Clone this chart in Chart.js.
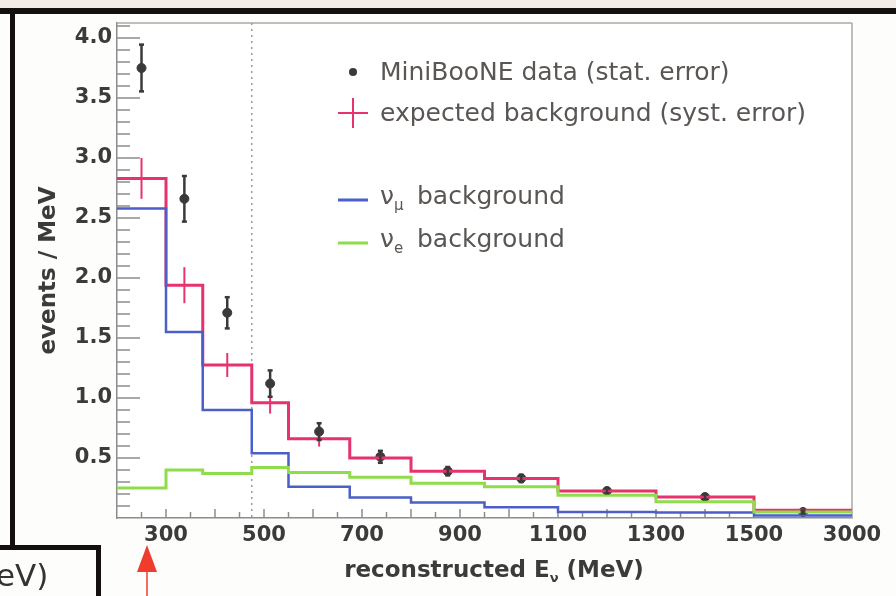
<!DOCTYPE html>
<html>
<head>
<meta charset="utf-8">
<script src="https://cdn.jsdelivr.net/npm/chart.js@4.4.0/dist/chart.umd.min.js"></script>
<style>
  html, body { margin: 0; padding: 0; background: #fdfdfc; }
  #wrap { width: 896px; height: 596px; position: relative; }
</style>
</head>
<body>
<div id="wrap"><canvas id="chart" width="896" height="596"></canvas></div>
<script>
// ---- data ----
// bin edges in MeV; the last bin (1500-3000) is drawn squeezed like the original plot
const binEdges = [200, 300, 375, 475, 550, 675, 800, 950, 1100, 1300, 1500, 3000];
const dataValues = [3.75, 2.66, 1.71, 1.12, 0.72, 0.51, 0.39, 0.33, 0.225, 0.175, 0.05];
const dataErrors = [0.195, 0.19, 0.13, 0.11, 0.07, 0.05, 0.035, 0.03, 0.02, 0.02, 0.012];
const expectedBkg = [2.83, 1.94, 1.275, 0.96, 0.66, 0.50, 0.39, 0.33, 0.225, 0.175, 0.065];
const expectedErr = [0.17, 0.15, 0.10, 0.09, 0.065, 0.045, 0.03, 0.025, 0.02, 0.015, 0.01];
const numuBkg = [2.58, 1.55, 0.90, 0.54, 0.26, 0.17, 0.13, 0.09, 0.05, 0.045, 0.02];
const nueBkg = [0.25, 0.40, 0.37, 0.42, 0.38, 0.34, 0.29, 0.26, 0.19, 0.135, 0.05];
const xTickValues = [300, 500, 700, 900, 1100, 1300, 1500, 3000];
const yTickValues = [0.5, 1.0, 1.5, 2.0, 2.5, 3.0, 3.5, 4.0];
const cutEnergy = 475; // dotted line

const COL_DATA = '#3a3a3a';
const COL_EXP = '#e6336e';
const COL_NUMU = '#4a5fc8';
const COL_NUE = '#8fdc4c';
const COL_TEXT = '#3b3b3b';
const COL_LEG = '#5a5654';
const FONT = '"DejaVu Sans", sans-serif';

// broken axis: everything above 1500 MeV is squeezed into 200 MeV of axis
const BREAK = 1500, TAIL = 200;
function axisX(e) { return e <= BREAK ? e : BREAK + (e - BREAK) * TAIL / (binEdges[binEdges.length - 1] - BREAK); }
function binCenter(i) { return axisX((binEdges[i] + binEdges[i + 1]) / 2); }

function histPoints(vals) {
  const pts = vals.map((v, i) => ({ x: axisX(binEdges[i]), y: v }));
  pts.push({ x: axisX(binEdges[binEdges.length - 1]), y: vals[vals.length - 1] });
  return pts;
}

function line(ctx, x1, y1, x2, y2) {
  ctx.beginPath(); ctx.moveTo(x1, y1); ctx.lineTo(x2, y2); ctx.stroke();
}

// ---- slide frame, ticks, error bars, legend ----
const decor = {
  id: 'decor',
  beforeDraw(chart) {
    const ctx = chart.ctx;
    ctx.save();
    ctx.fillStyle = '#fdfdfc';
    ctx.fillRect(0, 0, 896, 596);
    ctx.fillStyle = '#f1ede6';
    ctx.fillRect(0, 0, 896, 8);
    ctx.fillStyle = '#141010';
    ctx.fillRect(0, 8, 896, 6);     // top black band
    ctx.fillRect(10, 8, 5, 542);    // left black band
    ctx.fillRect(0, 545, 101, 5);   // lower box
    ctx.fillRect(96, 545, 5, 51);
    ctx.fillStyle = '#ffffff';
    const a = chart.chartArea;
    ctx.fillRect(a.left, a.top, a.right - a.left, a.bottom - a.top);
    ctx.restore();
  },
  beforeDatasetsDraw(chart) {
    const ctx = chart.ctx, a = chart.chartArea;
    const xs = chart.scales.x, ys = chart.scales.y;
    ctx.save();
    // plot box top/right
    ctx.strokeStyle = '#a8a8a8'; ctx.lineWidth = 1.5;
    line(ctx, a.left, a.top, a.right, a.top);
    line(ctx, a.right, a.top, a.right, a.bottom);
    // inward y ticks every 0.1
    ctx.strokeStyle = '#8c8c8c'; ctx.lineWidth = 1.5;
    for (let k = 1; k / 10 <= ys.max; k++) {
      const y = ys.getPixelForValue(k / 10);
      line(ctx, a.left, y, a.left + (k % 5 === 0 ? 23 : 13), y);
    }
    // inward x ticks every 50 MeV
    for (let e = 250; e <= BREAK; e += 50) {
      const x = xs.getPixelForValue(axisX(e));
      line(ctx, x, a.bottom, x, a.bottom - (e % 100 === 0 ? 9 : 6));
    }
    // dotted cut line
    ctx.strokeStyle = '#9a9a9a'; ctx.lineWidth = 1.5; ctx.setLineDash([2, 4]);
    const xc = xs.getPixelForValue(axisX(cutEnergy));
    line(ctx, xc, a.top, xc, a.bottom);
    ctx.setLineDash([]);
    ctx.restore();
  },
  afterDatasetsDraw(chart) {
    const ctx = chart.ctx;
    const xs = chart.scales.x, ys = chart.scales.y;
    ctx.save();
    // systematic error on expected background
    ctx.strokeStyle = COL_EXP; ctx.lineWidth = 2;
    expectedBkg.forEach((v, i) => {
      const x = xs.getPixelForValue(binCenter(i));
      line(ctx, x, ys.getPixelForValue(v + expectedErr[i]), x, ys.getPixelForValue(v - expectedErr[i]));
    });
    // statistical error on data
    ctx.strokeStyle = COL_DATA; ctx.lineWidth = 2.5;
    dataValues.forEach((v, i) => {
      const x = xs.getPixelForValue(binCenter(i));
      const y1 = ys.getPixelForValue(v + dataErrors[i]), y2 = ys.getPixelForValue(v - dataErrors[i]);
      line(ctx, x, y1, x, y2);
      line(ctx, x - 2.5, y1, x + 2.5, y1);
      line(ctx, x - 2.5, y2, x + 2.5, y2);
    });
    ctx.restore();
  },
  afterDraw(chart) {
    const ctx = chart.ctx;
    ctx.save();
    ctx.textBaseline = 'alphabetic';

    // legend
    const lx = 338, lw = 30, tx = 380;
    ctx.font = '25px ' + FONT;
    ctx.fillStyle = COL_DATA;
    ctx.beginPath(); ctx.arc(lx + lw / 2, 72, 4, 0, Math.PI * 2); ctx.fill();
    ctx.fillStyle = COL_LEG;
    ctx.fillText('MiniBooNE data (stat. error)', tx, 80);

    ctx.strokeStyle = COL_EXP; ctx.lineWidth = 2;
    line(ctx, lx, 113, lx + lw, 113);
    line(ctx, lx + lw / 2, 98, lx + lw / 2, 128);
    ctx.fillText('expected background (syst. error)', tx, 121);

    const subRows = [
      { sub: 'μ', color: COL_NUMU, y: 200 },
      { sub: 'e', color: COL_NUE, y: 243 }
    ];
    subRows.forEach(r => {
      ctx.strokeStyle = r.color; ctx.lineWidth = 3;
      line(ctx, lx, r.y, lx + lw, r.y);
      ctx.fillStyle = COL_LEG;
      ctx.font = '25px ' + FONT;
      ctx.fillText('ν', tx, r.y + 4);
      const w = ctx.measureText('ν').width;
      ctx.font = '15px ' + FONT;
      ctx.fillText(r.sub, tx + w, r.y + 10);
      ctx.font = '25px ' + FONT;
      ctx.fillText('background', tx + 37, r.y + 4);
    });

    // x axis title with subscript
    ctx.fillStyle = COL_TEXT;
    ctx.font = 'bold 23px ' + FONT;
    const p1 = 'reconstructed E', p3 = ' (MeV)';
    const w1 = ctx.measureText(p1).width, w3 = ctx.measureText(p3).width;
    ctx.font = 'bold 13px ' + FONT;
    const w2 = ctx.measureText('ν').width;
    let x0 = 494 - (w1 + w2 + w3) / 2;
    ctx.font = 'bold 23px ' + FONT;
    ctx.fillText(p1, x0, 577);
    ctx.font = 'bold 13px ' + FONT;
    ctx.fillText('ν', x0 + w1, 582);
    ctx.font = 'bold 23px ' + FONT;
    ctx.fillText(p3, x0 + w1 + w2, 577);

    // leftover pieces of the slide
    ctx.fillStyle = '#333333';
    ctx.font = '31px ' + FONT;
    ctx.fillText('eV)', -4, 586);
    ctx.fillStyle = '#f03c2c';
    ctx.beginPath();
    ctx.moveTo(147, 545); ctx.lineTo(157, 572); ctx.lineTo(137, 572); ctx.closePath(); ctx.fill();
    ctx.strokeStyle = '#f03c2c'; ctx.lineWidth = 1.5;
    line(ctx, 147, 572, 147, 596);
    ctx.restore();
  }
};

function histDataset(label, vals, color, width) {
  return {
    label, data: histPoints(vals), borderColor: color, borderWidth: width,
    stepped: 'before', pointRadius: 0, fill: false, tension: 0
  };
}

new Chart(document.getElementById('chart'), {
  type: 'line',
  data: {
    datasets: [
      histDataset('νe background', nueBkg, COL_NUE, 3),
      histDataset('νμ background', numuBkg, COL_NUMU, 2.5),
      histDataset('expected background', expectedBkg, COL_EXP, 3),
      {
        label: 'MiniBooNE data',
        data: dataValues.map((v, i) => ({ x: binCenter(i), y: v })),
        showLine: false, pointRadius: 4.5, pointBackgroundColor: COL_DATA,
        pointBorderColor: COL_DATA, borderColor: COL_DATA
      }
    ]
  },
  options: {
    responsive: false,
    animation: false,
    events: [],
    layout: { padding: { left: 0, top: 23, right: 44, bottom: 0 } },
    plugins: { legend: { display: false }, tooltip: { enabled: false } },
    scales: {
      x: {
        type: 'linear',
        min: binEdges[0],
        max: axisX(binEdges[binEdges.length - 1]),
        afterBuildTicks: s => { s.ticks = xTickValues.map(v => ({ value: axisX(v) })); },
        afterFit: s => { s.height = 78; },
        grid: { display: false, drawTicks: false },
        border: { display: true, color: '#8c8c8c', width: 1.5 },
        ticks: {
          padding: 5, color: COL_TEXT, maxRotation: 0, autoSkip: false,
          font: { family: FONT, size: 21, weight: 'bold' },
          callback: v => {
            const i = xTickValues.findIndex(t => Math.abs(axisX(t) - v) < 1e-6);
            return i >= 0 ? String(xTickValues[i]) : '';
          }
        }
      },
      y: {
        min: 0,
        max: 4.125,
        afterBuildTicks: s => { s.ticks = yTickValues.map(v => ({ value: v })); },
        afterFit: s => { s.width = 117; },
        grid: { display: false, drawTicks: false },
        border: { display: true, color: '#8c8c8c', width: 1.5 },
        ticks: {
          padding: 5, color: COL_TEXT, autoSkip: false,
          font: { family: FONT, size: 21, weight: 'bold' },
          callback: v => v.toFixed(1)
        },
        title: {
          display: true, text: 'events / MeV', color: COL_TEXT,
          font: { family: FONT, size: 23, weight: 'bold' },
          padding: { top: 35, bottom: 0 }
        }
      }
    }
  },
  plugins: [decor]
});
</script>
</body>
</html>
